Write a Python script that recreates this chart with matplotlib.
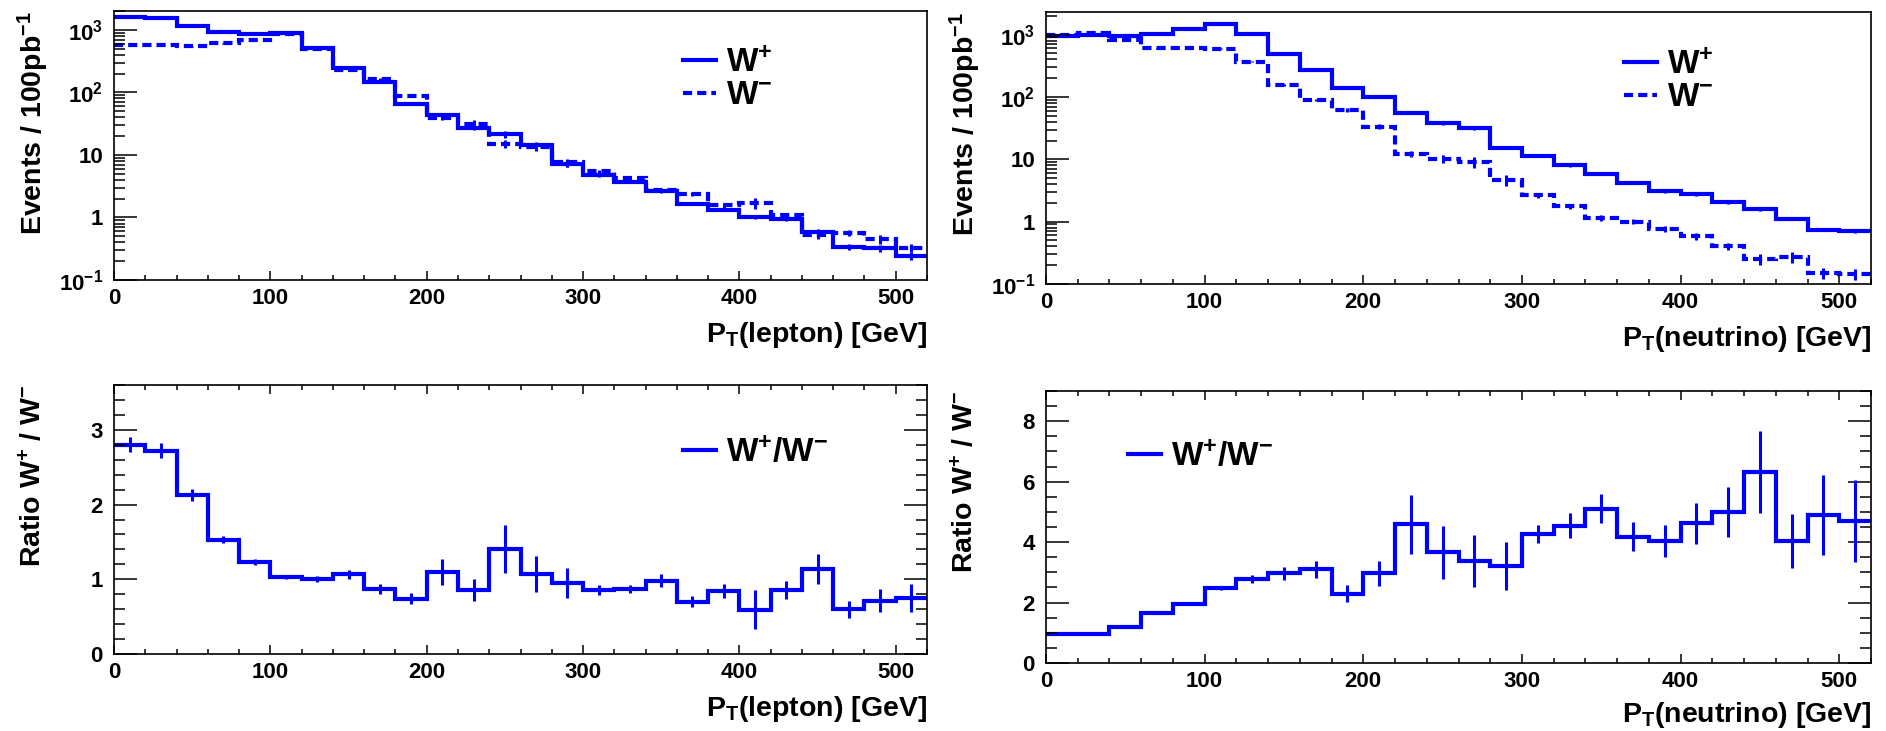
import numpy as np
import matplotlib.pyplot as plt
from matplotlib import rcParams
import matplotlib.ticker as mticker

# 20 GeV bins from 0 to 520 GeV
edges = np.arange(0, 540, 20)
centers = edges[:-1] + 10

# P_T(lepton), events / 100 pb^-1
lep_wplus = [1590, 1570, 1166, 931, 845, 897, 510, 247, 144, 65.6, 43.4, 27.3, 21.3,
             14.6, 7.24, 4.73, 3.68, 2.63, 1.67, 1.32, 1.01, 0.93, 0.59, 0.34, 0.32, 0.245]
lep_wminus = [570, 580, 550, 610, 690, 870, 500, 232, 162, 88.7, 39.5, 31.7, 15.2,
              13.6, 7.6, 5.5, 4.2, 2.7, 2.4, 1.56, 1.7, 1.08, 0.52, 0.57, 0.45, 0.33]
lep_wplus_relerr = [0.01, 0.01, 0.01, 0.01, 0.01, 0.01, 0.015, 0.02, 0.03, 0.04, 0.06,
                    0.08, 0.12, 0.1, 0.1, 0.05, 0.05, 0.05, 0.05, 0.05, 0.06, 0.06,
                    0.1, 0.1, 0.12, 0.15]
lep_wminus_relerr = [0.02, 0.02, 0.02, 0.02, 0.02, 0.02, 0.03, 0.04, 0.05, 0.06, 0.1,
                     0.12, 0.15, 0.15, 0.15, 0.06, 0.06, 0.06, 0.08, 0.08, 0.2, 0.1,
                     0.12, 0.1, 0.15, 0.15]

# P_T(neutrino), events / 100 pb^-1
nu_wplus = [940, 1000, 940, 1010, 1216, 1460, 1010, 479, 275, 140, 100, 55.7, 37.7,
            31.3, 15.3, 11.4, 8.0, 5.9, 4.17, 3.08, 2.75, 2.05, 1.58, 1.12, 0.74, 0.695]
nu_wminus = [985, 1050, 820, 605, 620, 590, 368, 157, 89, 62, 33.5, 12.2, 10.2,
             9.2, 4.7, 2.66, 1.76, 1.15, 1.0, 0.76, 0.58, 0.405, 0.252, 0.274, 0.148, 0.147]
nu_wplus_relerr = [0.01, 0.01, 0.01, 0.01, 0.01, 0.01, 0.01, 0.015, 0.02, 0.03, 0.03,
                   0.04, 0.05, 0.05, 0.06, 0.06, 0.05, 0.05, 0.05, 0.05, 0.05, 0.05,
                   0.05, 0.06, 0.06, 0.06]
nu_wminus_relerr = [0.02, 0.02, 0.02, 0.02, 0.02, 0.02, 0.03, 0.04, 0.05, 0.06, 0.08,
                    0.12, 0.15, 0.2, 0.2, 0.1, 0.1, 0.1, 0.1, 0.1, 0.12, 0.12,
                    0.2, 0.2, 0.2, 0.2]

# W+/W- ratios
lep_ratio = [2.80, 2.72, 2.13, 1.53, 1.23, 1.03, 1.01, 1.07, 0.87, 0.74, 1.10, 0.86, 1.41,
             1.07, 0.95, 0.86, 0.87, 0.98, 0.70, 0.845, 0.59, 0.86, 1.135, 0.60, 0.715, 0.75]
lep_ratio_err = [0.10, 0.10, 0.08, 0.05, 0.04, 0.03, 0.04, 0.06, 0.07, 0.07, 0.17, 0.15,
                 0.32, 0.24, 0.20, 0.07, 0.06, 0.085, 0.07, 0.09, 0.26, 0.12, 0.20,
                 0.115, 0.155, 0.19]
nu_ratio = [0.957, 0.957, 1.175, 1.65, 1.957, 2.475, 2.78, 2.97, 3.10, 2.29, 2.97, 4.59,
            3.66, 3.39, 3.21, 4.27, 4.54, 5.11, 4.18, 4.04, 4.62, 5.0, 6.32, 4.04, 4.89, 4.70]
nu_ratio_err = [0.01, 0.01, 0.02, 0.04, 0.05, 0.06, 0.14, 0.22, 0.29, 0.275, 0.42, 0.97,
                0.88, 0.86, 0.80, 0.30, 0.41, 0.49, 0.47, 0.54, 0.69, 0.84, 1.37,
                0.89, 1.32, 1.37]

blue = '#0000ff'

rcParams.update({'font.family': 'Liberation Sans'})
rcParams.update({'font.weight': 'bold'})
rcParams.update({'mathtext.fontset': 'custom'})
rcParams.update({'mathtext.rm': 'Liberation Sans:bold'})
rcParams.update({'mathtext.bf': 'Liberation Sans:bold'})
rcParams.update({'mathtext.it': 'Liberation Sans:bold'})
rcParams.update({'axes.linewidth': 1.2})

W, H = 1886, 731
fig = plt.figure(figsize=(W/100, H/100), dpi=100)


def px_axes(left, top, right, bottom):
    return fig.add_axes([left/W, 1 - bottom/H, (right-left)/W, (bottom-top)/H])


def style_axes(ax, full_box):
    ax.set_xlim(0, 520)
    ax.xaxis.set_major_locator(mticker.MultipleLocator(100))
    ax.xaxis.set_minor_locator(mticker.MultipleLocator(20))
    ax.tick_params(axis='x', which='major', direction='in', length=6.5, width=1.1,
                   top=full_box, bottom=True, labelsize=16, pad=6)
    ax.tick_params(axis='x', which='minor', direction='in', length=3.3, width=1.1,
                   top=full_box, bottom=True)
    ax.tick_params(axis='y', which='major', direction='in', length=16.5, width=1.1,
                   left=True, right=full_box, labelsize=16, pad=8)
    ax.tick_params(axis='y', which='minor', direction='in', length=8, width=1.1,
                   left=True, right=full_box)


def titles(ax, xtitle, ytitle, xoff=-29):
    ax.annotate(xtitle, xy=(1, 0), xycoords='axes fraction', xytext=(0, xoff),
                textcoords='offset points', ha='right', va='top', fontsize=20.5)
    ax.annotate(ytitle, xy=(0, 1), xycoords='axes fraction', xytext=(-58, 0),
                textcoords='offset points', ha='center', va='top', rotation=90,
                fontsize=20.5)


def spectrum(ax, wplus, wminus, plus_rel, minus_rel, ymax, leg_x):
    ax.stairs(wplus, edges, baseline=None, color=blue, lw=3, label=r'W$^{+}$')
    ax.errorbar(centers, wplus, yerr=np.array(wplus)*np.array(plus_rel),
                fmt='none', ecolor=blue, elinewidth=2.2)
    ax.stairs(wminus, edges, baseline=None, color=blue, lw=3, linestyle=(0, (2.2, 1.2)),
              label=r'W$^{-}$')
    ax.errorbar(centers, wminus, yerr=np.array(wminus)*np.array(minus_rel),
                fmt='none', ecolor=blue, elinewidth=2.2)
    ax.set_yscale('log')
    ax.set_ylim(0.1, ymax)
    style_axes(ax, False)
    ax.yaxis.set_major_locator(mticker.FixedLocator([0.1, 1, 10, 100, 1000]))
    ax.yaxis.set_major_formatter(mticker.FixedFormatter(
        [r'$10^{-1}$', '1', '10', r'$10^{2}$', r'$10^{3}$']))
    ax.yaxis.set_minor_locator(mticker.LogLocator(subs=np.arange(2, 10), numticks=20))
    ax.yaxis.set_minor_formatter(mticker.NullFormatter())
    ax.legend(loc='center left', bbox_to_anchor=(leg_x, 0.745), frameon=False,
              fontsize=24, handlelength=1.0, handletextpad=0.3, labelspacing=0.05,
              borderpad=0, borderaxespad=0)


def ratio(ax, vals, errs, ymax, minor, leg_x, leg_y):
    ax.stairs(vals, edges, baseline=None, color=blue, lw=3, label=r'W$^{+}$/W$^{-}$')
    ax.errorbar(centers, vals, yerr=errs, fmt='none', ecolor=blue, elinewidth=2.2)
    ax.set_ylim(0, ymax)
    style_axes(ax, True)
    ax.yaxis.set_major_locator(mticker.MultipleLocator(minor*5))
    ax.yaxis.set_minor_locator(mticker.MultipleLocator(minor))
    ax.legend(loc='center left', bbox_to_anchor=(leg_x, leg_y), frameon=False,
              fontsize=24, handlelength=1.0, handletextpad=0.3,
              borderpad=0, borderaxespad=0)


# Spectra
ax1 = px_axes(114, 11, 927, 280)
spectrum(ax1, lep_wplus, lep_wminus, lep_wplus_relerr, lep_wminus_relerr, 2000, 0.70)
titles(ax1, r'P$_{T}$(lepton) [GeV]', r'Events / 100pb$^{-1}$')

ax2 = px_axes(1046, 12, 1871, 284)
spectrum(ax2, nu_wplus, nu_wminus, nu_wplus_relerr, nu_wminus_relerr, 2300, 0.70)
titles(ax2, r'P$_{T}$(neutrino) [GeV]', r'Events / 100pb$^{-1}$')

# Ratios
ax3 = px_axes(114, 385, 927, 654)
ratio(ax3, lep_ratio, lep_ratio_err, 3.6, 0.2, 0.70, 0.747)
titles(ax3, r'P$_{T}$(lepton) [GeV]', r'Ratio W$^{+}$ / W$^{-}$')

ax4 = px_axes(1046, 391, 1871, 663)
ratio(ax4, nu_ratio, nu_ratio_err, 9, 0.5, 0.099, 0.757)
ax4.yaxis.set_major_locator(mticker.MultipleLocator(2))
titles(ax4, r'P$_{T}$(neutrino) [GeV]', r'Ratio W$^{+}$ / W$^{-}$', xoff=-27)

fig.savefig('out.png', dpi=100, facecolor='w')
